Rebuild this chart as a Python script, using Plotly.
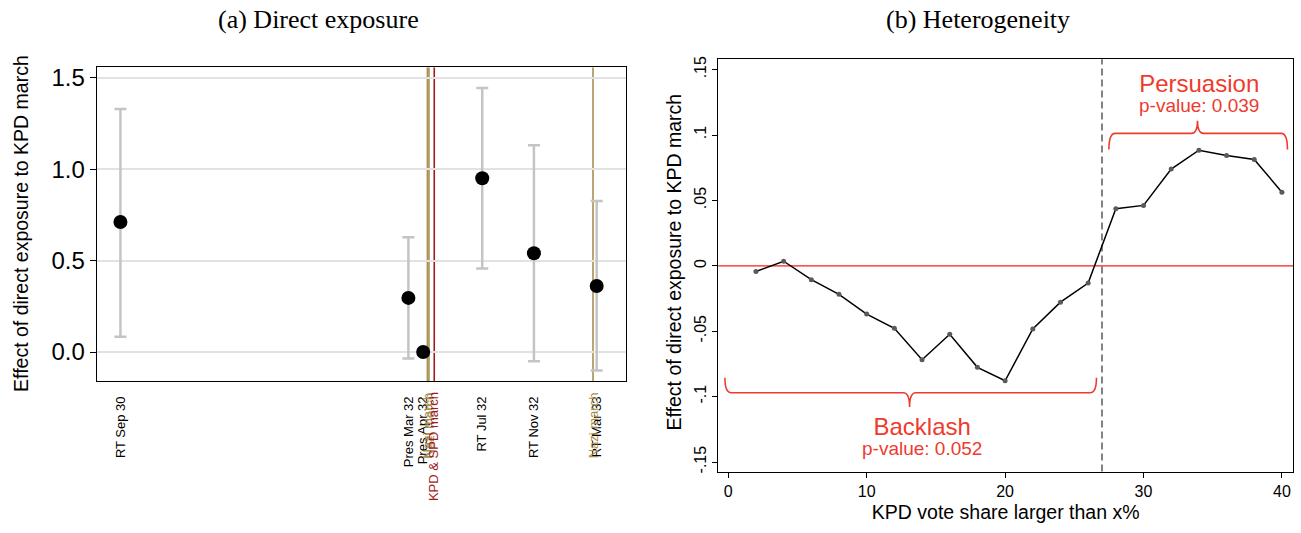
import plotly.graph_objects as go

# ---------------- data: panel (a) ----------------
elections = ["RT Sep 30", "Pres Mar 32", "Pres Apr 32", "RT Jul 32", "RT Nov 32", "RT Mar 33"]
election_dates = ["1930-09-14", "1932-03-13", "1932-04-10", "1932-07-31", "1932-11-06", "1933-03-05"]
coef = [0.711, 0.296, 0.0, 0.950, 0.540, 0.361]
ci_lo = [0.083, -0.036, 0.0, 0.457, -0.051, -0.101]
ci_hi = [1.329, 0.628, 0.0, 1.443, 1.130, 0.825]

events = ["Nazi march", "Nazi march", "KPD & SPD march", "Nazi march"]
event_dates = ["1932-04-18", "1932-04-21", "1932-05-01", "1933-02-26"]
left_yticks = [0.0, 0.5, 1.0, 1.5]
left_yticktext = ["0.0", "0.5", "1.0", "1.5"]

# ---------------- data: panel (b) ----------------
threshold = [2, 4, 6, 8, 10, 12, 14, 16, 18, 20, 22, 24, 26, 28, 30, 32, 34, 36, 38, 40]
effect = [-0.0043, 0.0035, -0.0106, -0.0218, -0.0369, -0.0478, -0.0718, -0.0523, -0.0776, -0.0879,
          -0.0483, -0.0278, -0.0132, 0.0437, 0.0462, 0.0740, 0.0884, 0.0844, 0.0813, 0.0563]
cutoff = 27
right_yticks = [-0.15, -0.1, -0.05, 0, 0.05, 0.1, 0.15]
right_yticktext = ["-.15", "-.1", "-.05", "0", ".05", ".1", ".15"]
right_xticks = [0, 10, 20, 30, 40]
groups = ["Backlash", "Persuasion"]
group_pvalues = ["0.052", "0.039"]

# ---------------- style ----------------
W, H = 1301, 533
def px_x(p): return p / W
def px_y(p): return 1 - p / H

RED = "#ff1a1a"
ANN_RED = "#ee3b2e"
GOLD = "#a8904f"
DARKRED = "#a01c1c"
event_color = {"Nazi march": GOLD, "KPD & SPD march": DARKRED}
SANS = "Liberation Sans, Arial, sans-serif"
SERIF = "Liberation Serif, Times New Roman, serif"

fig = go.Figure()

# panel (a) points with CI
fig.add_trace(go.Scatter(
    x=election_dates, y=coef, mode="markers", xaxis="x", yaxis="y",
    marker=dict(color="black", size=14),
    error_y=dict(type="data", symmetric=False,
                 array=[h - c for h, c in zip(ci_hi, coef)],
                 arrayminus=[c - l for c, l in zip(coef, ci_lo)],
                 color="#c4c4c4", thickness=2.5, width=6),
    showlegend=False, hoverinfo="skip"))

# panel (b) line
fig.add_trace(go.Scatter(
    x=threshold, y=effect, mode="lines+markers", xaxis="x2", yaxis="y2",
    line=dict(color="black", width=1.5),
    marker=dict(color="#5a5a5a", size=5),
    showlegend=False, hoverinfo="skip"))

shapes = []
# zero lines
shapes.append(dict(type="line", xref="x domain", yref="y", x0=0, x1=1, y0=0, y1=0,
                   line=dict(color=RED, width=1.3), layer="below"))
shapes.append(dict(type="line", xref="x2 domain", yref="y2", x0=0, x1=1, y0=0, y1=0,
                   line=dict(color=RED, width=1.3), layer="below"))
# event lines
for ev, d in zip(events, event_dates):
    shapes.append(dict(type="line", xref="x", yref="y domain", x0=d, x1=d, y0=0, y1=1,
                       line=dict(color=event_color[ev], width=1.6), layer="below"))
# cutoff dashed line
shapes.append(dict(type="line", xref="x2", yref="y2 domain", x0=cutoff, x1=cutoff, y0=0, y1=1,
                   line=dict(color="#404040", width=1.3, dash="7px,4px"), layer="below"))

# braces
def brace(x0, x1, ybar, yend, ytip, xm, dx):
    return (f"M {x0},{yend} Q {x0},{ybar} {x0+dx},{ybar} L {xm-dx},{ybar} "
            f"Q {xm},{ybar} {xm},{ytip} Q {xm},{ybar} {xm+dx},{ybar} "
            f"L {x1-dx},{ybar} Q {x1},{ybar} {x1},{yend}")

shapes.append(dict(type="path", xref="x2", yref="y2",
                   path=brace(-0.24, 26.6, -0.097, -0.0855, -0.108, 13.1, 0.45),
                   line=dict(color=ANN_RED, width=1.6)))
shapes.append(dict(type="path", xref="x2", yref="y2",
                   path=brace(27.5, 40.4, 0.1013, 0.089, 0.111, 33.9, 0.45),
                   line=dict(color=ANN_RED, width=1.6)))

annotations = []
# titles
annotations.append(dict(text="(a) Direct exposure", x=px_x(318), y=px_y(17), xref="paper", yref="paper",
                        showarrow=False, font=dict(family=SERIF, size=26, color="black"),
                        xanchor="center", yanchor="middle"))
annotations.append(dict(text="(b) Heterogeneity", x=px_x(978), y=px_y(17), xref="paper", yref="paper",
                        showarrow=False, font=dict(family=SERIF, size=26, color="black"),
                        xanchor="center", yanchor="middle"))
# y titles
annotations.append(dict(text="Effect of direct exposure to KPD march", x=px_x(21), y=px_y(223),
                        xref="paper", yref="paper", textangle=-90, showarrow=False,
                        font=dict(family=SANS, size=19.5, color="black"),
                        xanchor="center", yanchor="middle"))
annotations.append(dict(text="Effect of direct exposure to KPD march", x=px_x(674), y=px_y(262),
                        xref="paper", yref="paper", textangle=-90, showarrow=False,
                        font=dict(family=SANS, size=19.5, color="black"),
                        xanchor="center", yanchor="middle"))
# event labels
for ev, d in zip(events, event_dates):
    annotations.append(dict(text=ev, x=d, xref="x", y=px_y(391), yref="paper", textangle=-90,
                            showarrow=False, font=dict(family=SANS, size=13, color=event_color[ev]),
                            xanchor="center", yanchor="top"))
# group labels (name + p-value in one two-line text)
group_pos = [(14.0, -0.122), (34.0, 0.140)]
for g, p, (gx, gy) in zip(groups, group_pvalues, group_pos):
    annotations.append(dict(
        text=f"<span style='font-size:24px'>{g}</span><br>"
             f"<span style='font-size:19px'>p-value: {p}</span>",
        x=gx, y=gy - 0.00775, xref="x2", yref="y2", showarrow=False,
        font=dict(family=SANS, size=15.5, color=ANN_RED),
        xanchor="center", yanchor="middle", align="center"))

axis_common = dict(showline=True, linecolor="black", linewidth=1.2, mirror=True, zeroline=False)

fig.update_layout(
    width=W, height=H, margin=dict(l=0, r=0, t=0, b=0),
    paper_bgcolor="white", plot_bgcolor="white",
    font=dict(family=SANS, color="black"),
    xaxis=dict(domain=[px_x(96.7), px_x(625.7)], anchor="y", type="date",
               range=["1930-07-31", "1933-04-29"],
               tickvals=election_dates, ticktext=elections, tickangle=-90,
               tickfont=dict(size=13), ticks="", showgrid=False, ticklabelstandoff=9,
               **axis_common),
    yaxis=dict(domain=[px_y(381.7), px_y(65)], anchor="x", range=[-0.159, 1.556],
               tickvals=left_yticks, ticktext=left_yticktext, tickfont=dict(size=24),
               ticks="outside", ticklen=6, tickcolor="black", showgrid=True,
               gridcolor="#e2e2e2", gridwidth=1.5, **axis_common),
    xaxis2=dict(domain=[px_x(718.3), px_x(1293)], anchor="y2", range=[-0.72, 40.8],
                tickvals=right_xticks, tickfont=dict(size=16), ticks="outside", ticklen=5,
                tickcolor="black", showgrid=False,
                title=dict(text="KPD vote share larger than x%", font=dict(size=19.5), standoff=6),
                **axis_common),
    yaxis2=dict(domain=[px_y(473), px_y(56.7)], anchor="x2", range=[-0.1573, 0.158],
                tickvals=right_yticks, ticktext=right_yticktext, tickangle=-90,
                tickfont=dict(size=16), ticks="outside", ticklen=5, tickcolor="black",
                showgrid=False, **axis_common),
    shapes=shapes, annotations=annotations,
)

fig.write_html("out.html", config={"displayModeBar": False},
               post_script="document.body.style.margin='0';")
